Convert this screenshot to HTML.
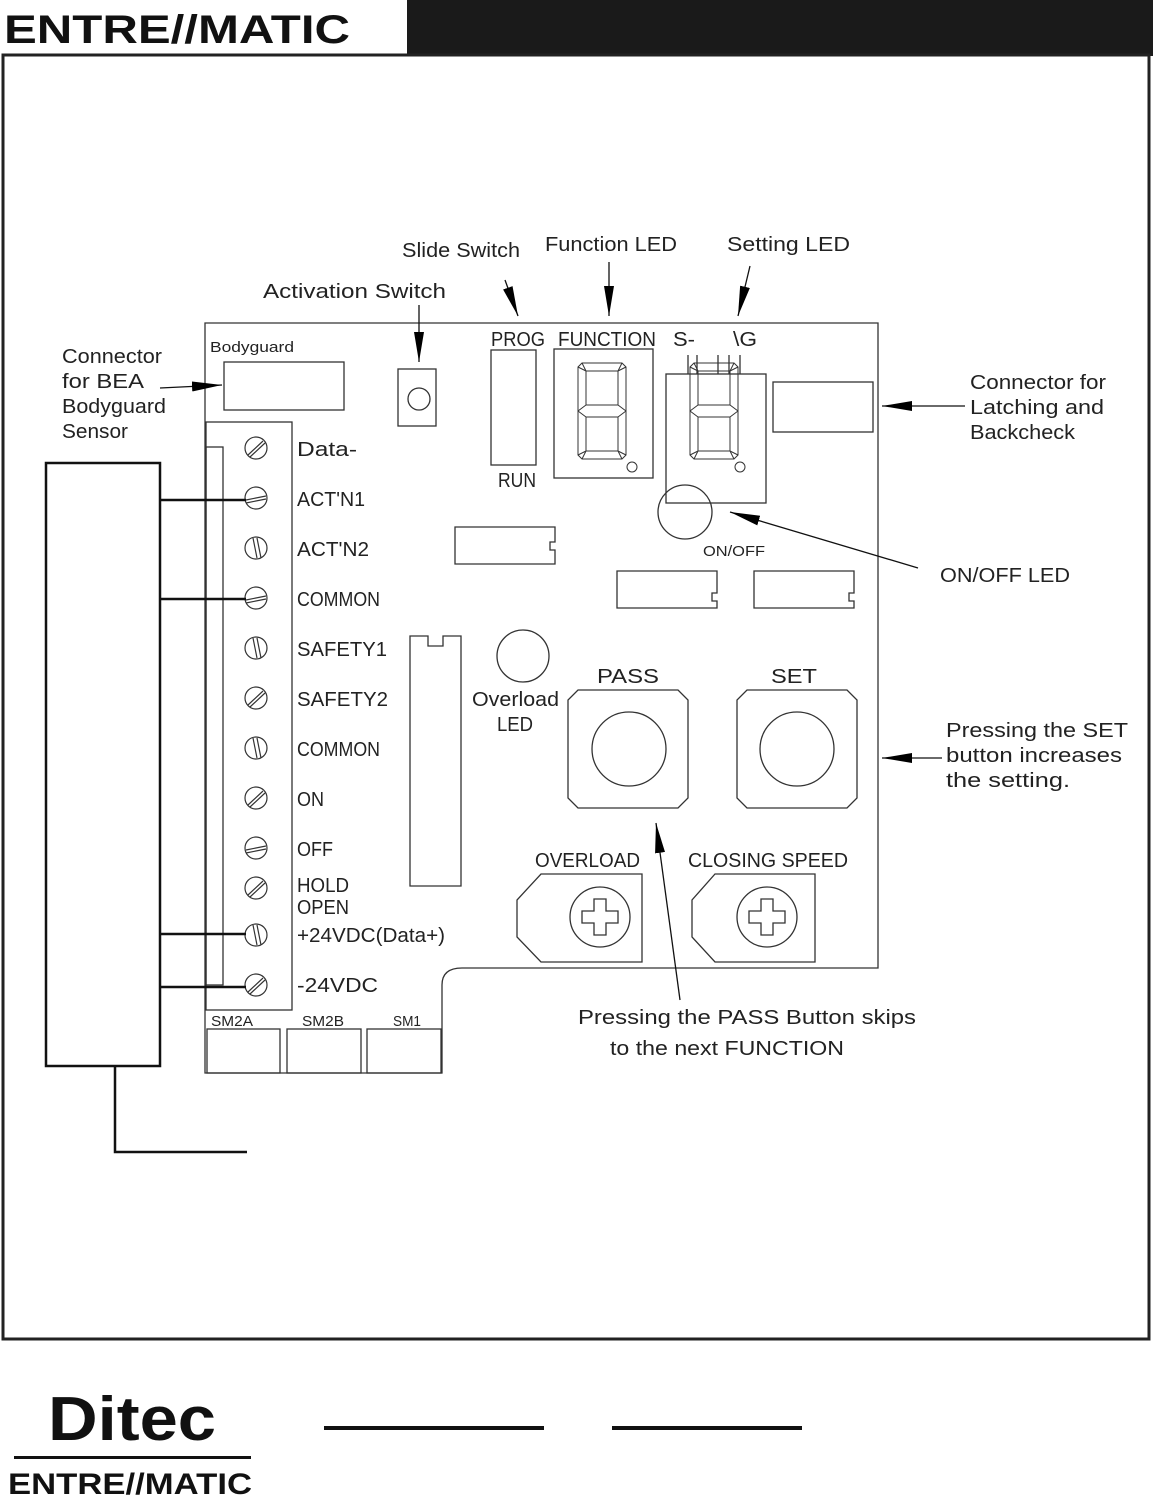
<!DOCTYPE html>
<html><head><meta charset="utf-8"><style>
html,body{margin:0;padding:0;background:#fff;}
svg{display:block}
text{font-family:"Liberation Sans Narrow","Liberation Sans",sans-serif;fill:#222;font-weight:300}
.l{font-size:20px}
.s{font-size:15px}
</style></head><body>
<svg width="1153" height="1496" viewBox="0 0 1153 1496" xmlns="http://www.w3.org/2000/svg">
<defs>
<marker id="b" viewBox="0 0 30 12" refX="30" refY="6" markerWidth="30" markerHeight="12" orient="auto" markerUnits="userSpaceOnUse"><path d="M0,1 L30,6 L0,11z" fill="#000"/></marker></defs>
<!-- header -->
<rect x="407" y="0" width="746" height="56" fill="#1a1a1a"/>
<text x="4" y="43" style="font-family:'Liberation Sans',sans-serif;font-weight:bold;font-size:40px;fill:#111" textLength="346" lengthAdjust="spacingAndGlyphs">ENTRE//MATIC</text>
<rect x="3" y="55" width="1146" height="1284" fill="none" stroke="#222" stroke-width="3"/>
<g stroke="#333" fill="none" stroke-width="1.3">
<!-- board -->
<path d="M205,323 L878,323 L878,968 L462,968 Q442,968 442,985 L442,1073 L205,1073 Z"/>
<rect x="224" y="362" width="120" height="48"/>
<rect x="398" y="369" width="38" height="57"/>
<circle cx="419" cy="399" r="11"/>
<rect x="206" y="422" width="86" height="588"/>
<rect x="206" y="447" width="17" height="538"/>
<rect x="491" y="350" width="45" height="115"/>
<rect x="554" y="349" width="99" height="129"/>
<rect x="666" y="374" width="100" height="129"/>
<path d="M688,374 V355 M697,374 V355 M718,374 V355 M729,374 V355 M740,374 V355"/>
<rect x="773" y="382" width="100" height="50"/>
<circle cx="685" cy="512" r="27"/>
<path d="M455,527 H555 V542 H550 V550 H555 V564 H455 Z"/>
<path d="M617,571 H717 V593 H712 V601 H717 V608 H617 Z"/>
<path d="M754,571 H854 V593 H849 V601 H854 V608 H754 Z"/>
<path d="M410,636 H428 V646 H443 V636 H461 V886 H410 Z"/>
<circle cx="523" cy="656" r="26"/>
<path d="M578,690 H678 L688,700 V798 L678,808 H578 L568,798 V700 Z"/>
<circle cx="629" cy="749" r="37"/>
<path d="M747,690 H847 L857,700 V798 L847,808 H747 L737,798 V700 Z"/>
<circle cx="797" cy="749" r="37"/>
<path d="M541,874 H642 V962 H541 L517,937 V900 Z"/>
<circle cx="600" cy="917" r="30"/>
<path d="M715,874 H815 V962 H715 L692,937 V900 Z"/>
<circle cx="767" cy="917" r="30"/>
<path d="M594,899 h12 v12 h12 v12 h-12 v12 h-12 v-12 h-12 v-12 h12 z"/>
<path d="M761,899 h12 v12 h12 v12 h-12 v12 h-12 v-12 h-12 v-12 h12 z"/>
<rect x="207" y="1029" width="73" height="44"/>
<rect x="287" y="1029" width="74" height="44"/>
<rect x="367" y="1029" width="74" height="44"/>
</g>
<!-- 7 segment -->
<g stroke="#333" fill="none" stroke-width="1">
<g transform="translate(578,363)">
<path d="M4,0 H44 L48,4 V92 L44,96 H4 L0,92 V4 Z"/>
<rect x="8" y="8" width="32" height="34"/><rect x="8" y="54" width="32" height="34"/>
<path d="M0,4 L8,8 M48,4 L40,8 M0,92 L8,88 M48,92 L40,88 M0,48 L8,42 M0,48 L8,54 M48,48 L40,42 M48,48 L40,54 M4,0 L8,8 M44,0 L40,8 M4,96 L8,88 M44,96 L40,88"/>
<circle cx="54" cy="104" r="5"/>
</g>
<g transform="translate(690,363)">
<path d="M4,0 H44 L48,4 V92 L44,96 H4 L0,92 V4 Z"/>
<rect x="8" y="8" width="32" height="34"/><rect x="8" y="54" width="32" height="34"/>
<path d="M0,4 L8,8 M48,4 L40,8 M0,92 L8,88 M48,92 L40,88 M0,48 L8,42 M0,48 L8,54 M48,48 L40,42 M48,48 L40,54 M4,0 L8,8 M44,0 L40,8 M4,96 L8,88 M44,96 L40,88"/>
<circle cx="50" cy="104" r="5"/>
</g>
</g>
<!-- screws -->
<g stroke="#333" fill="none" stroke-width="1.2">
<circle cx="256" cy="448" r="11"/><path d="M248,455 L263,441 M250,457 L265,443"/>
<circle cx="256" cy="498" r="11"/><path d="M246,500 L266,496 M246,503 L266,499"/>
<circle cx="256" cy="548" r="11"/><path d="M253,538 L257,558 M257,538 L261,558"/>
<circle cx="256" cy="598" r="11"/><path d="M246,600 L266,596 M246,603 L266,599"/>
<circle cx="256" cy="648" r="11"/><path d="M253,638 L257,658 M257,638 L261,658"/>
<circle cx="256" cy="698" r="11"/><path d="M248,705 L263,691 M250,707 L265,693"/>
<circle cx="256" cy="748" r="11"/><path d="M253,738 L257,758 M257,738 L261,758"/>
<circle cx="256" cy="798" r="11"/><path d="M248,805 L263,791 M250,807 L265,793"/>
<circle cx="256" cy="848" r="11"/><path d="M246,850 L266,846 M246,853 L266,849"/>
<circle cx="256" cy="888" r="11"/><path d="M248,895 L263,881 M250,897 L265,883"/>
<circle cx="256" cy="935" r="11"/><path d="M253,925 L257,945 M257,925 L261,945"/>
<circle cx="256" cy="985" r="11"/><path d="M248,992 L263,978 M250,994 L265,980"/>
</g>
<!-- sensor & wires -->
<g stroke="#111" fill="none" stroke-width="2.5">
<rect x="46" y="463" width="114" height="603"/>
<path d="M160,500 H246 M160,599 H246 M160,934 H246 M160,987 H246 M115,1066 V1152 H247"/>
</g>
<!-- arrows -->
<g stroke="#111" stroke-width="1.3" fill="none">
<path d="M160,388 L222,385" marker-end="url(#b)"/>
<path d="M419,305 L419,362" marker-end="url(#b)"/>
<path d="M505,280 L518,316" marker-end="url(#b)"/>
<path d="M609,262 L609,316" marker-end="url(#b)"/>
<path d="M750,266 L738,316" marker-end="url(#b)"/>
<path d="M965,406 L882,406" marker-end="url(#b)"/>
<path d="M918,568 L730,512" marker-end="url(#b)"/>
<path d="M942,758 L882,758" marker-end="url(#b)"/>
<path d="M680,1000 L656,823" marker-end="url(#b)"/>
</g>
<!-- labels -->
<text class="s" x="210" y="352" textLength="84" lengthAdjust="spacingAndGlyphs">Bodyguard</text>
<g class="l">
<text x="62" y="363" textLength="100" lengthAdjust="spacingAndGlyphs">Connector</text>
<text x="62" y="388" textLength="82" lengthAdjust="spacingAndGlyphs">for BEA</text>
<text x="62" y="413" textLength="104" lengthAdjust="spacingAndGlyphs">Bodyguard</text>
<text x="62" y="438" textLength="66" lengthAdjust="spacingAndGlyphs">Sensor</text>
<text x="263" y="298" textLength="183" lengthAdjust="spacingAndGlyphs">Activation Switch</text>
<text x="402" y="257" textLength="118" lengthAdjust="spacingAndGlyphs">Slide Switch</text>
<text x="545" y="251" textLength="132" lengthAdjust="spacingAndGlyphs">Function LED</text>
<text x="727" y="251" textLength="123" lengthAdjust="spacingAndGlyphs">Setting LED</text>
<text x="491" y="346" textLength="54" lengthAdjust="spacingAndGlyphs">PROG</text>
<text x="558" y="346" textLength="98" lengthAdjust="spacingAndGlyphs">FUNCTION</text>
<text x="673" y="346" textLength="22" lengthAdjust="spacingAndGlyphs">S-</text>
<text x="733" y="346" textLength="24" lengthAdjust="spacingAndGlyphs">\G</text>
<text x="498" y="487" textLength="38" lengthAdjust="spacingAndGlyphs">RUN</text>
<text x="970" y="389" textLength="136" lengthAdjust="spacingAndGlyphs">Connector for</text>
<text x="970" y="414" textLength="134" lengthAdjust="spacingAndGlyphs">Latching and</text>
<text x="970" y="439" textLength="105" lengthAdjust="spacingAndGlyphs">Backcheck</text>
<text x="940" y="582" textLength="130" lengthAdjust="spacingAndGlyphs">ON/OFF LED</text>
<text x="946" y="737" textLength="182" lengthAdjust="spacingAndGlyphs">Pressing the SET</text>
<text x="946" y="762" textLength="176" lengthAdjust="spacingAndGlyphs">button increases</text>
<text x="946" y="787" textLength="124" lengthAdjust="spacingAndGlyphs">the setting.</text>
<text x="578" y="1024" textLength="338" lengthAdjust="spacingAndGlyphs">Pressing the PASS Button skips</text>
<text x="610" y="1055" textLength="234" lengthAdjust="spacingAndGlyphs">to the next FUNCTION</text>
<text x="472" y="706" textLength="87" lengthAdjust="spacingAndGlyphs">Overload</text>
<text x="497" y="731" textLength="36" lengthAdjust="spacingAndGlyphs">LED</text>
<text x="597" y="683" textLength="62" lengthAdjust="spacingAndGlyphs">PASS</text>
<text x="771" y="683" textLength="46" lengthAdjust="spacingAndGlyphs">SET</text>
<text x="535" y="867" textLength="105" lengthAdjust="spacingAndGlyphs">OVERLOAD</text>
<text x="688" y="867" textLength="160" lengthAdjust="spacingAndGlyphs">CLOSING SPEED</text>
<text x="297" y="456" textLength="60" lengthAdjust="spacingAndGlyphs">Data-</text>
<text x="297" y="506" textLength="68" lengthAdjust="spacingAndGlyphs">ACT'N1</text>
<text x="297" y="556" textLength="72" lengthAdjust="spacingAndGlyphs">ACT'N2</text>
<text x="297" y="606" textLength="83" lengthAdjust="spacingAndGlyphs">COMMON</text>
<text x="297" y="656" textLength="90" lengthAdjust="spacingAndGlyphs">SAFETY1</text>
<text x="297" y="706" textLength="91" lengthAdjust="spacingAndGlyphs">SAFETY2</text>
<text x="297" y="756" textLength="83" lengthAdjust="spacingAndGlyphs">COMMON</text>
<text x="297" y="806" textLength="27" lengthAdjust="spacingAndGlyphs">ON</text>
<text x="297" y="856" textLength="36" lengthAdjust="spacingAndGlyphs">OFF</text>
<text x="297" y="892" textLength="52" lengthAdjust="spacingAndGlyphs">HOLD</text>
<text x="297" y="914" textLength="52" lengthAdjust="spacingAndGlyphs">OPEN</text>
<text x="297" y="942" textLength="148" lengthAdjust="spacingAndGlyphs">+24VDC(Data+)</text>
<text x="297" y="992" textLength="81" lengthAdjust="spacingAndGlyphs">-24VDC</text>
</g>
<text class="s" x="703" y="556" textLength="62" lengthAdjust="spacingAndGlyphs">ON/OFF</text>
<text class="s" x="211" y="1026" textLength="42" lengthAdjust="spacingAndGlyphs">SM2A</text>
<text class="s" x="302" y="1026" textLength="42" lengthAdjust="spacingAndGlyphs">SM2B</text>
<text class="s" x="393" y="1026" textLength="28" lengthAdjust="spacingAndGlyphs">SM1</text>
<!-- footer -->
<text x="48" y="1440" style="font-family:'Liberation Sans Narrow','Liberation Sans',sans-serif;font-weight:bold;font-size:62px;fill:#111" textLength="168" lengthAdjust="spacingAndGlyphs">Ditec</text>
<rect x="14" y="1456" width="237" height="3" fill="#111"/>
<text x="8" y="1494" style="font-family:'Liberation Sans',sans-serif;font-weight:bold;font-size:30px;fill:#111" textLength="244" lengthAdjust="spacingAndGlyphs">ENTRE//MATIC</text>
<rect x="324" y="1426" width="220" height="4" fill="#111"/>
<rect x="612" y="1426" width="190" height="4" fill="#111"/>
</svg>
</body></html>
